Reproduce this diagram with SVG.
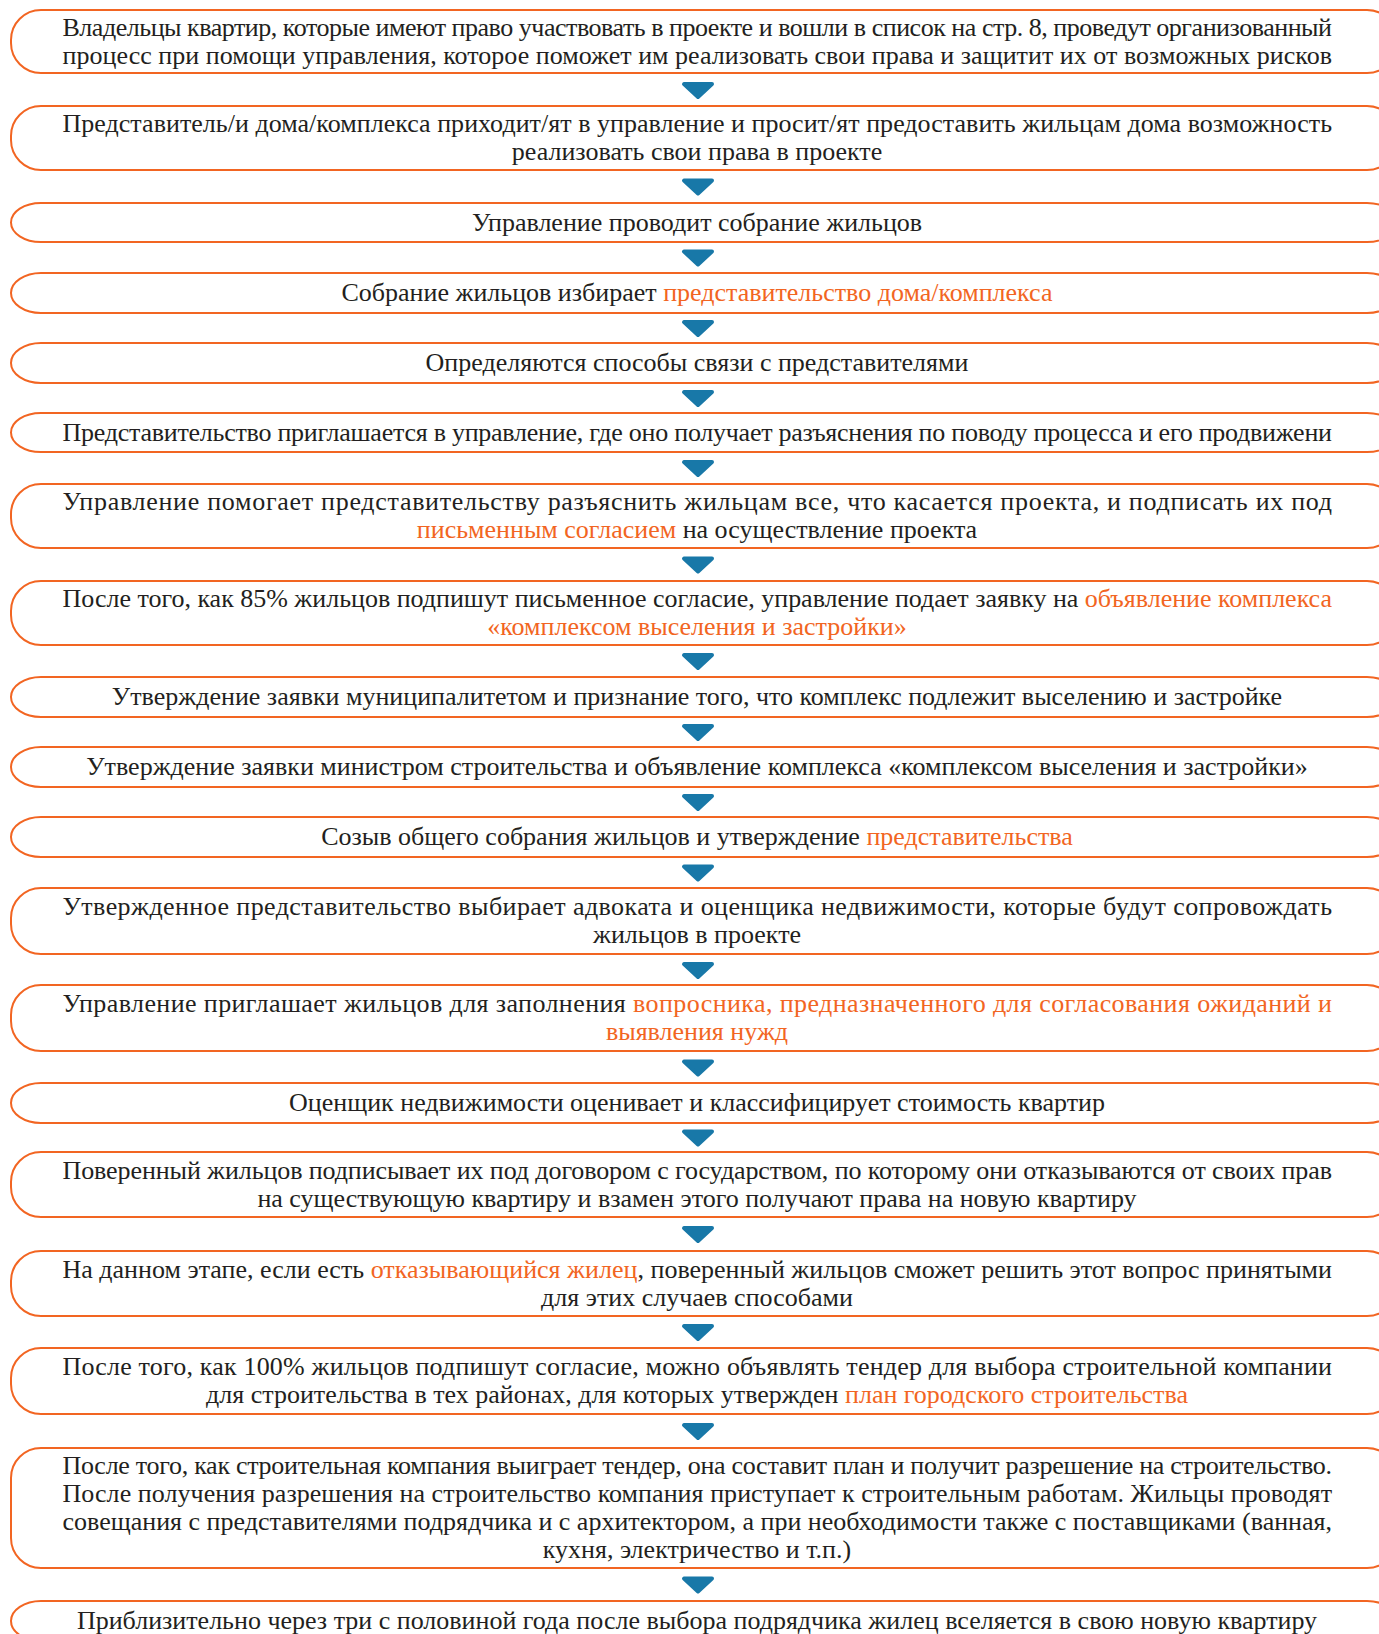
<svg xmlns="http://www.w3.org/2000/svg" width="1379" height="1634" viewBox="0 0 1379 1634">
<style>
.box{fill:#fff;stroke:#F26522;stroke-width:2}
.t{font-family:"Liberation Serif","Times New Roman",serif;font-size:26px;fill:#231F20}
.c{text-anchor:middle}
.o{fill:#F26522}
.arr{fill:#1878A8;stroke:#1878A8;stroke-width:4;stroke-linejoin:round}
</style>
<defs>
<path id="tri" d="M-14,-6 L14,-6 L0,7 Z"/>
</defs>
<rect width="1379" height="1634" fill="#fff"/>
<g id="connectors">
<use href="#tri" class="arr" x="698" y="90"/>
<use href="#tri" class="arr" x="698" y="186.5"/>
<use href="#tri" class="arr" x="698" y="257.5"/>
<use href="#tri" class="arr" x="698" y="328"/>
<use href="#tri" class="arr" x="698" y="398"/>
<use href="#tri" class="arr" x="698" y="468"/>
<use href="#tri" class="arr" x="698" y="564.5"/>
<use href="#tri" class="arr" x="698" y="661"/>
<use href="#tri" class="arr" x="698" y="732"/>
<use href="#tri" class="arr" x="698" y="802"/>
<use href="#tri" class="arr" x="698" y="872.5"/>
<use href="#tri" class="arr" x="698" y="970"/>
<use href="#tri" class="arr" x="698" y="1067.5"/>
<use href="#tri" class="arr" x="698" y="1137.5"/>
<use href="#tri" class="arr" x="698" y="1234"/>
<use href="#tri" class="arr" x="698" y="1332"/>
<use href="#tri" class="arr" x="698" y="1431"/>
<use href="#tri" class="arr" x="698" y="1584.5"/>
</g>
<g id="n1"><rect class="box" x="11" y="10" width="1386" height="63" rx="30" ry="30"/>
<text class="t" x="62.5" y="35.5" textLength="1269.5" lengthAdjust="spacing">Владельцы квартир, которые имеют право участвовать в проекте и вошли в список на стр. 8, проведут организованный</text>
<text class="t" x="62.5" y="63.5" textLength="1269.5" lengthAdjust="spacing">процесс при помощи управления, которое поможет им реализовать свои права и защитит их от возможных рисков</text></g>
<g id="n2"><rect class="box" x="11" y="106" width="1386" height="64" rx="30" ry="30"/>
<text class="t" x="62.5" y="132" textLength="1269.5" lengthAdjust="spacing">Представитель/и дома/комплекса приходит/ят в управление и просит/ят предоставить жильцам дома возможность</text>
<text class="t c" x="697" y="160">реализовать свои права в проекте</text></g>
<g id="n3"><rect class="box" x="11" y="203" width="1386" height="39" rx="30" ry="30"/>
<text class="t c" x="697" y="230.5">Управление проводит собрание жильцов</text></g>
<g id="n4"><rect class="box" x="11" y="273" width="1386" height="40" rx="30" ry="30"/>
<text class="t c" x="697" y="301">Собрание жильцов избирает <tspan class="o">представительство дома/комплекса</tspan></text></g>
<g id="n5"><rect class="box" x="11" y="343" width="1386" height="40" rx="30" ry="30"/>
<text class="t c" x="697" y="371">Определяются способы связи с представителями</text></g>
<g id="n6"><rect class="box" x="11" y="413" width="1386" height="39" rx="30" ry="30"/>
<text class="t" x="62.5" y="440.5" textLength="1269.5" lengthAdjust="spacing">Представительство приглашается в управление, где оно получает разъяснения по поводу процесса и его продвижени</text></g>
<g id="n7"><rect class="box" x="11" y="484" width="1386" height="64" rx="30" ry="30"/>
<text class="t" x="62.5" y="510" textLength="1269.5" lengthAdjust="spacing">Управление помогает представительству разъяснить жильцам все, что касается проекта, и подписать их под</text>
<text class="t c" x="697" y="538"><tspan class="o">письменным согласием</tspan> на осуществление проекта</text></g>
<g id="n8"><rect class="box" x="11" y="581" width="1386" height="64" rx="30" ry="30"/>
<text class="t" x="62.5" y="607" textLength="1269.5" lengthAdjust="spacing">После того, как 85% жильцов подпишут письменное согласие, управление подает заявку на <tspan class="o">объявление комплекса</tspan></text>
<text class="t c o" x="697" y="635">«комплексом выселения и застройки»</text></g>
<g id="n9"><rect class="box" x="11" y="677" width="1386" height="40" rx="30" ry="30"/>
<text class="t c" x="697" y="705">Утверждение заявки муниципалитетом и признание того, что комплекс подлежит выселению и застройке</text></g>
<g id="n10"><rect class="box" x="11" y="747" width="1386" height="40" rx="30" ry="30"/>
<text class="t c" x="697" y="775">Утверждение заявки министром строительства и объявление комплекса «комплексом выселения и застройки»</text></g>
<g id="n11"><rect class="box" x="11" y="817" width="1386" height="40" rx="30" ry="30"/>
<text class="t c" x="697" y="845">Созыв общего собрания жильцов и утверждение <tspan class="o">представительства</tspan></text></g>
<g id="n12"><rect class="box" x="11" y="888" width="1386" height="66" rx="30" ry="30"/>
<text class="t" x="62.5" y="915" textLength="1269.5" lengthAdjust="spacing">Утвержденное представительство выбирает адвоката и оценщика недвижимости, которые будут сопровождать</text>
<text class="t c" x="697" y="943">жильцов в проекте</text></g>
<g id="n13"><rect class="box" x="11" y="985" width="1386" height="66" rx="30" ry="30"/>
<text class="t" x="62.5" y="1012" textLength="1269.5" lengthAdjust="spacing">Управление приглашает жильцов для заполнения <tspan class="o">вопросника, предназначенного для согласования ожиданий и</tspan></text>
<text class="t c o" x="697" y="1040">выявления нужд</text></g>
<g id="n14"><rect class="box" x="11" y="1083" width="1386" height="40" rx="30" ry="30"/>
<text class="t c" x="697" y="1111">Оценщик недвижимости оценивает и классифицирует стоимость квартир</text></g>
<g id="n15"><rect class="box" x="11" y="1152" width="1386" height="65" rx="30" ry="30"/>
<text class="t" x="62.5" y="1178.5" textLength="1269.5" lengthAdjust="spacing">Поверенный жильцов подписывает их под договором с государством, по которому они отказываются от своих прав</text>
<text class="t c" x="697" y="1206.5">на существующую квартиру и взамен этого получают права на новую квартиру</text></g>
<g id="n16"><rect class="box" x="11" y="1251" width="1386" height="65" rx="30" ry="30"/>
<text class="t" x="62.5" y="1277.5" textLength="1269.5" lengthAdjust="spacing">На данном этапе, если есть <tspan class="o">отказывающийся жилец</tspan>, поверенный жильцов сможет решить этот вопрос принятыми</text>
<text class="t c" x="697" y="1305.5">для этих случаев способами</text></g>
<g id="n17"><rect class="box" x="11" y="1348" width="1386" height="66" rx="30" ry="30"/>
<text class="t" x="62.5" y="1375" textLength="1269.5" lengthAdjust="spacing">После того, как 100% жильцов подпишут согласие, можно объявлять тендер для выбора строительной компании</text>
<text class="t c" x="697" y="1403">для строительства в тех районах, для которых утвержден <tspan class="o">план городского строительства</tspan></text></g>
<g id="n18"><rect class="box" x="11" y="1448" width="1386" height="120" rx="30" ry="30"/>
<text class="t" x="62.5" y="1474" textLength="1269.5" lengthAdjust="spacing">После того, как строительная компания выиграет тендер, она составит план и получит разрешение на строительство.</text>
<text class="t" x="62.5" y="1502" textLength="1269.5" lengthAdjust="spacing">После получения разрешения на строительство компания приступает к строительным работам. Жильцы проводят</text>
<text class="t" x="62.5" y="1530" textLength="1269.5" lengthAdjust="spacing">совещания с представителями подрядчика и с архитектором, а при необходимости также с поставщиками (ванная,</text>
<text class="t c" x="697" y="1558">кухня, электричество и т.п.)</text></g>
<g id="n19"><rect class="box" x="11" y="1601" width="1386" height="40" rx="30" ry="30"/>
<text class="t c" x="697" y="1629">Приблизительно через три с половиной года после выбора подрядчика жилец вселяется в свою новую квартиру</text></g>
</svg>
